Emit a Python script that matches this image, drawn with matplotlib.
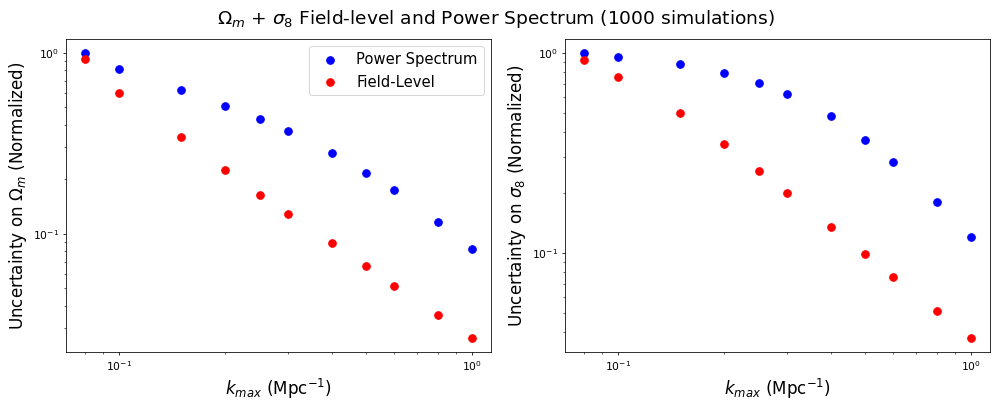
import numpy as np
import matplotlib
matplotlib.use('Agg')
import matplotlib.pyplot as plt

# k_max values (Mpc^-1)
kmax = [0.08, 0.1, 0.15, 0.2, 0.25, 0.3, 0.4, 0.5, 0.6, 0.8, 1.0]

# normalized uncertainties on Omega_m
om_ps = [1.0, 0.816, 0.625, 0.51, 0.43, 0.37, 0.28, 0.217, 0.175, 0.116, 0.082]
om_fl = [0.927, 0.60, 0.344, 0.226, 0.164, 0.129, 0.089, 0.066, 0.0516, 0.0357, 0.0266]

# normalized uncertainties on sigma_8
s8_ps = [1.0, 0.955, 0.88, 0.79, 0.71, 0.62, 0.48, 0.367, 0.285, 0.18, 0.12]
s8_fl = [0.92, 0.76, 0.50, 0.35, 0.257, 0.20, 0.135, 0.099, 0.076, 0.051, 0.0376]

dpi = 70.86
fig, (ax1, ax2) = plt.subplots(1, 2, figsize=(992/dpi, 405.4/dpi), dpi=dpi)

ax1.scatter(kmax, om_ps, color='blue', s=60, label='Power Spectrum')
ax1.scatter(kmax, om_fl, color='red', s=60, label='Field-Level')
ax1.set_xscale('log')
ax1.set_yscale('log')
ax1.set_xlabel(r'$k_{max}$ (Mpc$^{-1}$)', fontsize=17)
ax1.set_ylabel(r'Uncertainty on $\Omega_m$ (Normalized)', fontsize=17)
ax1.legend(loc='upper right', fontsize=15)

ax2.scatter(kmax, s8_ps, color='blue', s=60, label='Power Spectrum')
ax2.scatter(kmax, s8_fl, color='red', s=60, label='Field-Level')
ax2.set_xscale('log')
ax2.set_yscale('log')
ax2.set_xlabel(r'$k_{max}$ (Mpc$^{-1}$)', fontsize=17)
ax2.set_ylabel(r'Uncertainty on $\sigma_8$ (Normalized)', fontsize=17)

for ax in (ax1, ax2):
    ax.tick_params(which='both', labelsize=11)

fig.suptitle(r'$\Omega_m$ + $\sigma_8$ Field-level and Power Spectrum (1000 simulations)', fontsize=19)
fig.subplots_adjust(left=0.0665, right=0.998, top=0.904, bottom=0.131, wspace=0.174)

plt.savefig('out.png', dpi=dpi)
